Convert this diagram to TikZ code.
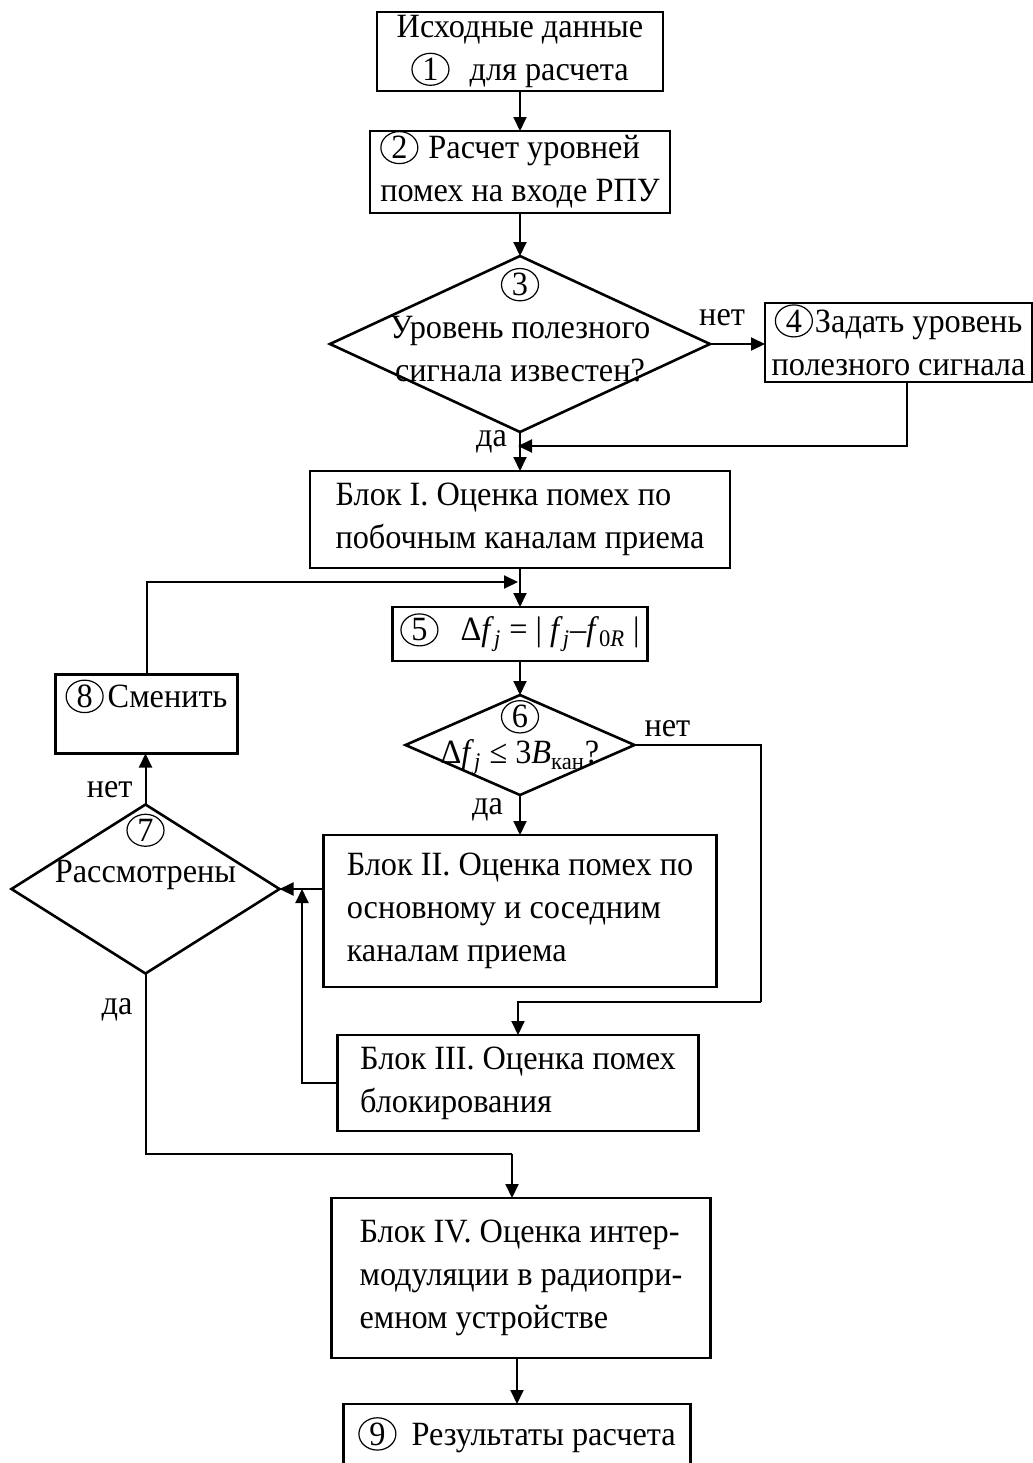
\documentclass[tikz,border=0pt]{standalone}
\usepackage{fontspec}
\setmainfont{Liberation Serif}[FakeStretch=0.95]
\usetikzlibrary{arrows.meta,positioning,shapes.geometric,calc}

% circled block number
\newcommand{\cn}[1]{\smash{\tikz[baseline=(cnum.base)]\node[draw, ellipse, line width=0.6pt, inner sep=0pt,
  minimum width=18.5pt, minimum height=16pt, font=\fontsize{17}{17}\selectfont] (cnum) {#1};}}
\newcommand{\fj}{\textit{f}\textsubscript{\textit{j}}}

\begin{document}
\begin{tikzpicture}[x=0.5pt, y=-0.5pt,
  box/.style={draw, line width=1.3pt, inner sep=1pt, outer sep=0pt, align=center,
              font=\fontsize{17}{21.5}\selectfont},
  lbox/.style={draw, line width=1.3pt, inner sep=0pt, outer sep=0pt, align=left,
              font=\fontsize{17}{21.5}\selectfont},
  dec/.style={draw, diamond, line width=1.3pt, inner sep=0pt, outer sep=0pt},
  txt/.style={align=center, inner sep=0pt, font=\fontsize{17}{21.5}\selectfont},
  lab/.style={inner sep=1pt, font=\fontsize{17}{20}\selectfont},
  arrow/.style={-{Triangle[length=7pt, width=6.5pt]}, line width=1pt},
  wire/.style={line width=1pt}
]
\useasboundingbox (0,0) rectangle (1033,1463);

\node[box, minimum width=143pt, minimum height=39.5pt] (src) at (520,51.5)
  {Исходные данные\\\cn{1}\hspace{10pt}для расчета};
\node[box, align=left, minimum width=150pt, minimum height=41pt, below=20pt of src] (lvl)
  {\cn{2}\hspace{5pt}Расчет уровней\\помех на входе РПУ};
\node[dec, minimum width=190pt, minimum height=88pt, below=21.5pt of lvl] (known) {};
\node[txt] (knownT) at ([yshift=2.5pt]known.center) {\cn{3}\\Уровень полезного\\сигнала известен?};
\node[box, minimum width=133.5pt, minimum height=39.5pt, right=27.5pt of known, yshift=0.75pt] (set)
  {\cn{4}\hspace{1pt}Задать уровень\\полезного сигнала};

\node[lbox, minimum width=210pt, minimum height=48.5pt, below=19.5pt of known] (blk1)
  {Блок I. Оценка помех по\\побочным каналам приема};
\node[box, minimum width=127.5pt, minimum height=27pt, below=19.5pt of blk1] (delta)
  {\cn{5}\hspace{11pt}Δ\fj{} = | \fj–\textit{f}\textsubscript{0\textit{R}} |};
\node[dec, minimum width=114.5pt, minimum height=50pt, below=17pt of delta] (near) {};
\node[txt] (nearT) at ([yshift=-3pt]near.center) {\cn{6}\\[-3.5pt]Δ\fj{} ≤ 3\textit{B}\textsubscript{кан}?};

\node[lbox, minimum width=196.5pt, minimum height=76pt, below=20pt of near] (blk2)
  {Блок II. Оценка помех по\\основному и соседним\\каналам приема};
\node[dec, minimum width=134pt, minimum height=84.5pt, left=22pt of blk2, yshift=11pt] (seen) {};
\node[txt] (seenT) at ([yshift=11.75pt]seen.center) {\cn{7}\\[-1pt]Рассмотрены};
\node[box, text height=15.5pt, text depth=22pt, minimum width=91pt, above=25.5pt of seen,
      xshift=0.5pt] (chg)
  {\cn{8}\hspace{2pt}Сменить};

\node[lbox, minimum width=180.5pt, minimum height=48pt, below=24pt of blk2, xshift=-1pt] (blk3)
  {Блок III. Оценка помех\\блокирования};
\node[lbox, minimum width=189.5pt, minimum height=80pt, below=33.5pt of blk3, xshift=1.5pt] (blk4)
  {Блок IV. Оценка интер-\\модуляции в радиопри-\\емном устройстве};
\node[box, text height=19.5pt, text depth=16pt, minimum width=173.5pt, below=23pt of blk4,
      xshift=-2pt] (res)
  {\cn{9}\hspace{7.5pt}Результаты расчета};

% junction points
\coordinate (j1) at (518,446);
\coordinate (j2) at (518,582);
\coordinate (j3) at (302,889);
\coordinate (j4) at (512,1154);
\coordinate (j5) at (761,1002);

\draw[arrow] (src) -- (lvl.north -| src);
\draw[arrow] (lvl.south -| known.north) -- (known.north);
\draw[arrow] (known.east) -- node[lab, above=7.5pt, pos=0.22] (no3) {нет} (set.west |- known.east);
\draw[arrow] ([xshift=4pt]set.south) |- (j1);
\draw[arrow] (known.south) -- node[lab, left=5pt, pos=0.26] (yes3) {да} (known.south |- blk1.north);
\draw[arrow] (delta.north |- blk1.south) -- (delta.north);
\draw[arrow] (chg.north) |- (j2);
\draw[arrow] (delta) -- (near.north);
\draw[wire] (near.east) -- node[lab, above=2.5pt, pos=0.26] (no6) {нет} (near.east -| j5) -- (j5);
\draw[arrow] (j5) -| (blk3.north -| j1);
\draw[arrow] (near.south) -- node[lab, left=7pt, pos=0.375] (yes6) {да} (blk2.north -| near.south);
\draw[arrow] (blk2.west |- seen.east) -- (seen.east);
\draw[arrow] (blk3.west) -| (j3);
\draw[arrow] (seen.north) -- node[lab, left=5pt, pos=0.29] (no7) {нет} (seen.north |- chg.south);
\draw[wire] (seen.south) -- node[lab, left=5pt, pos=0.2] (yes7) {да} (seen.south |- j4) -- (j4);
\draw[arrow] (j4) -- (j4 |- blk4.north);
\draw[arrow] (res.north |- blk4.south) -- (res.north);
\end{tikzpicture}
\end{document}
